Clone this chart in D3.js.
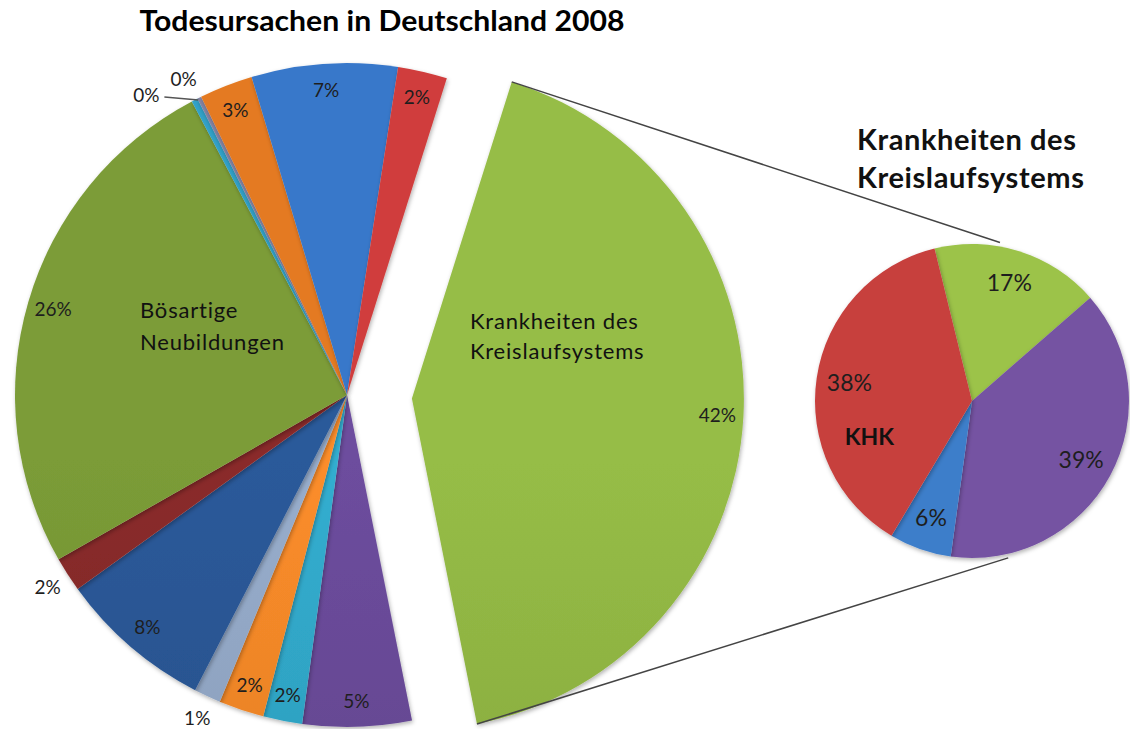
<!DOCTYPE html>
<html>
<head>
<meta charset="utf-8">
<script src="https://cdn.jsdelivr.net/npm/d3@7"></script>
<style>
    body { margin: 0; background: #fff; }
    svg { display: block; font-family: Lato, "Open Sans", sans-serif; }
</style>
</head>
<body>
<svg id="chart"></svg>
<script>
// Anteile in %, im Uhrzeigersinn ab "Krankheiten des Kreislaufsystems"
const causes = ["Kreislaufsystem", "Ursache B", "Ursache C", "Ursache D", "Ursache E", "Ursache F",
    "Ursache G", "Bösartige Neubildungen", "Ursache H", "Ursache I", "Ursache J", "Ursache K", "Ursache L"];
const shares = [42.0, 5.3, 1.9, 2.2, 1.3, 7.5, 1.7, 25.5, 0.3, 0.2, 2.6, 7.1, 2.4];
const shareLabels = ["42%", "5%", "2%", "2%", "1%", "8%", "2%", "26%", "0%", "0%", "3%", "7%", "2%"];
const colors = ["#8db142", "#664894", "#2fa3c3", "#ec8427", "#8fa3c0", "#285490",
    "#812827", "#739234", "#2f98bc", "#7d7d9a", "#d6721f", "#3571bd", "#c33a39"];

// Aufteilung der Kreislauf-Krankheiten
const subCauses = ["Sonstige", "Weitere", "Ursache X", "KHK"];
const subShares = [17.4, 38.6, 6.4, 37.6];
const subLabels = ["17%", "39%", "6%", "38%"];
const subColors = ["#92b745", "#6e4d98", "#3a76bd", "#bb3b3a"];

const W = 1130, H = 729;
const svg = d3.select("#chart").attr("width", W).attr("height", H);

const cx = 347, cy = 395, R = 332;
const cx2 = 972, cy2 = 401, R2 = 157;
const rad = Math.PI / 180;

const defs = svg.append("defs");
const shadow = defs.append("filter").attr("id", "shadow")
    .attr("x", "-10%").attr("y", "-10%").attr("width", "120%").attr("height", "120%");
shadow.append("feDropShadow").attr("dx", 1).attr("dy", 2).attr("stdDeviation", 2)
    .attr("flood-color", "#000").attr("flood-opacity", 0.3);

function gradient(id, col, y0, y1) {
    const g = defs.append("linearGradient").attr("id", id)
        .attr("gradientUnits", "userSpaceOnUse")
        .attr("x1", 0).attr("x2", 0).attr("y1", y0).attr("y2", y1);
    g.append("stop").attr("offset", "0%").attr("stop-color", d3.color(col).brighter(0.18));
    g.append("stop").attr("offset", "100%").attr("stop-color", d3.color(col).darker(0.3));
}

// Titel
svg.append("text")
    .attr("x", 382).attr("y", 31)
    .attr("text-anchor", "middle")
    .attr("font-size", 29).attr("font-weight", "bold")
    .attr("textLength", 485).attr("lengthAdjust", "spacingAndGlyphs")
    .text("Todesursachen in Deutschland 2008");

// Hauptkreis
const a0 = 17.5 * rad;
const pie = d3.pie().sort(null).startAngle(a0).endAngle(a0 + 2 * Math.PI);
const arcs = pie(shares);
const arc = d3.arc().innerRadius(0).outerRadius(R);

// explodiertes Segment wird entlang seiner Mittelachse verschoben
const explode = 65;
function offset(d, i) {
    if (i !== 0) return [0, 0];
    const m = (d.startAngle + d.endAngle) / 2;
    return [explode * Math.sin(m), -explode * Math.cos(m)];
}

const main = svg.append("g").attr("transform", "translate(" + cx + "," + cy + ")");
arcs.forEach((d, i) => gradient("g" + i, colors[i], cy - R, cy + R));

main.selectAll(".slice")
    .data(arcs)
    .enter().append("path")
    .attr("class", "slice")
    .attr("transform", (d, i) => "translate(" + offset(d, i) + ")")
    .attr("d", arc)
    .attr("fill", (d, i) => "url(#g" + i + ")")
    .attr("filter", "url(#shadow)");

// Prozentwerte: innen am Rand, sehr kleine Segmente außen
let prev = null;
arcs.forEach((d, i) => {
    const m = (d.startAngle + d.endAngle) / 2;
    const small = shares[i] < 1.8;
    const r = small ? 356 : 306;
    const o = offset(d, i);
    let x = o[0] + r * Math.sin(m), y = o[1] - r * Math.cos(m) + 7;
    if (prev && small && Math.hypot(x - prev[0], y - prev[1]) < 30) {
        // Überlappung: nach links setzen, mit Führungslinie
        const ex = (R + 2) * Math.sin(m), ey = -(R + 2) * Math.cos(m) + 4;
        main.append("line")
            .attr("x1", ex).attr("y1", ey)
            .attr("x2", ex - 34).attr("y2", ey - 3)
            .attr("stroke", "#555").attr("stroke-width", 1.5);
        x = ex - 52; y = ey + 2;
    }
    if (small) prev = [x, y];
    main.append("text")
        .attr("x", x).attr("y", y)
        .attr("text-anchor", "middle")
        .attr("font-size", 19).attr("fill", "#1e1e1e")
        .text(shareLabels[i]);
});

// Kategorienamen
function block(g, x, y, lines, size, bold, lh, ls) {
    const t = g.append("text").attr("x", x).attr("y", y)
        .attr("font-size", size).attr("fill", "#111")
        .attr("letter-spacing", ls)
        .attr("font-weight", bold ? "bold" : "normal");
    lines.forEach((l, k) => t.append("tspan").attr("x", x).attr("dy", k ? lh : 0).text(l));
}
const o0 = offset(arcs[0], 0);
block(main, o0[0] + 58, -66, ["Krankheiten des", "Kreislaufsystems"], 22, false, 30, 0.8);
block(main, -207, -77, ["Bösartige", "Neubildungen"], 22, false, 32, 0.8);

// Verbindungslinien zum zweiten Kreis
const s = arcs[0];
const p1 = [cx + o0[0] + R * Math.sin(s.startAngle), cy + o0[1] - R * Math.cos(s.startAngle)];
const p2 = [cx + o0[0] + R * Math.sin(s.endAngle), cy + o0[1] - R * Math.cos(s.endAngle)];
const q1 = [cx2 + (R2 + 4) * Math.sin(10 * rad), cy2 - (R2 + 4) * Math.cos(10 * rad)];
const q2 = [cx2 + (R2 + 4) * Math.sin(167 * rad), cy2 - (R2 + 4) * Math.cos(167 * rad)];
[[p1, q1], [p2, q2]].forEach(l => {
    svg.append("line")
        .attr("x1", l[0][0]).attr("y1", l[0][1])
        .attr("x2", l[1][0]).attr("y2", l[1][1])
        .attr("stroke", "#444").attr("stroke-width", 1.5);
});

// zweiter Kreis
block(svg, 857, 150, ["Krankheiten des", "Kreislaufsystems"], 29, true, 38, 0.6);

const b0 = -13.8 * rad;
const subPie = d3.pie().sort(null).startAngle(b0).endAngle(b0 + 2 * Math.PI);
const subArcs = subPie(subShares);
const subArc = d3.arc().innerRadius(0).outerRadius(R2);
subArcs.forEach((d, i) => gradient("s" + i, subColors[i], cy2 - R2, cy2 + R2));

const sub = svg.append("g").attr("transform", "translate(" + cx2 + "," + cy2 + ")");
sub.selectAll(".subslice")
    .data(subArcs)
    .enter().append("path")
    .attr("class", "subslice")
    .attr("d", subArc)
    .attr("fill", (d, i) => "url(#s" + i + ")")
    .attr("filter", "url(#shadow)");

subArcs.forEach((d, i) => {
    const m = (d.startAngle + d.endAngle) / 2;
    const x = 124 * Math.sin(m), y = -124 * Math.cos(m) + 8;
    sub.append("text")
        .attr("x", x).attr("y", y)
        .attr("text-anchor", "middle")
        .attr("font-size", 23).attr("fill", "#1e1e1e")
        .text(subLabels[i]);
    if (subCauses[i] === "KHK") {
        sub.append("text")
            .attr("x", x + 20).attr("y", y + 54)
            .attr("text-anchor", "middle")
            .attr("font-size", 23).attr("font-weight", "bold").attr("fill", "#111")
            .text("KHK");
    }
});
</script>
</body>
</html>
